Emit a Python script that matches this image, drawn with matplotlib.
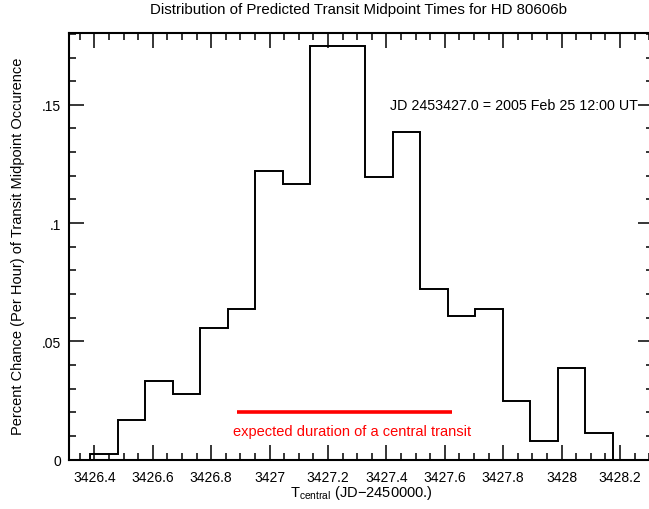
import numpy as np
import matplotlib
matplotlib.use('Agg')
import matplotlib.pyplot as plt
from matplotlib.ticker import MultipleLocator, FuncFormatter

plt.rcParams['font.family'] = ['Liberation Sans', 'DejaVu Sans']
plt.rcParams['mathtext.fontset'] = 'custom'
plt.rcParams['mathtext.rm'] = 'Liberation Sans'

# histogram of predicted midpoint times (fraction per hour)
bin_start = 3426.386
bin_width = 0.0942
heights = [0.0025, 0.0165, 0.0332, 0.0275, 0.0555, 0.0636, 0.1222, 0.1165,
           0.1749, 0.1749, 0.1194, 0.1387, 0.0720, 0.0607, 0.0636, 0.0247,
           0.0080, 0.0389, 0.0110]
edges = bin_start + bin_width * np.arange(len(heights) + 1)

# expected duration of a central transit
transit_span = [3426.889, 3427.626]
transit_level = 0.020

fig = plt.figure(figsize=(6.49, 5.10), dpi=100)
ax = fig.add_axes([69 / 649, 1 - 460.5 / 510, 584 / 649, 426.8 / 510])

ax.stairs(heights, edges, color='black', lw=1.4, baseline=0)
ax.plot(transit_span, [transit_level, transit_level], color='red', lw=2.6,
        solid_capstyle='butt')
ax.text(3427.281, 0.0122, 'expected duration of a central transit',
        color='red', ha='center', va='center', fontsize=10.5)
ax.text(3428.262, 0.15, 'JD 2453427.0 = 2005 Feb 25 12:00 UT',
        ha='right', va='center', fontsize=10.3)

ax.set_xlim(3426.313, 3428.313)
ax.set_ylim(0, 0.1805)

ax.xaxis.set_major_locator(MultipleLocator(0.2))
ax.xaxis.set_minor_locator(MultipleLocator(0.05))
ax.yaxis.set_major_locator(MultipleLocator(0.05))
ax.yaxis.set_minor_locator(MultipleLocator(0.01))
ax.xaxis.set_major_formatter(FuncFormatter(lambda v, p: ('%.1f' % v).rstrip('0').rstrip('.')))
ax.yaxis.set_major_formatter(FuncFormatter(lambda v, p: '0' if abs(v) < 1e-9 else ('%.2f' % v).lstrip('0').rstrip('0')))

ax.tick_params(which='both', direction='in', top=True, right=True, width=1.1,
               labelsize=10)
ax.tick_params(which='major', length=10.5)
ax.tick_params(which='minor', length=5.2)
ax.tick_params(axis='x', which='major', pad=7.5)
ax.tick_params(axis='y', which='major', pad=5.5)
for s in ax.spines.values():
    s.set_linewidth(1.5)

ax.set_xlabel(r'T$_{\rm central}$ (JD$-$2450000.)', fontsize=10.5)
ax.set_ylabel('Percent Chance (Per Hour) of Transit Midpoint Occurence',
              fontsize=10.5)
ax.xaxis.set_label_coords((361 - 69) / 584, -(493 - 460.5) / 426.8)
ax.xaxis.label.set_va('center')
ax.yaxis.set_label_coords((18 - 69) / 584, (460.5 - 246) / 426.8)
ax.yaxis.label.set_va('center')
fig.text(358 / 649, 1 - 10 / 510,
         'Distribution of Predicted Transit Midpoint Times for HD 80606b',
         ha='center', va='center', fontsize=10.8)

fig.savefig('out.png', dpi=100)
